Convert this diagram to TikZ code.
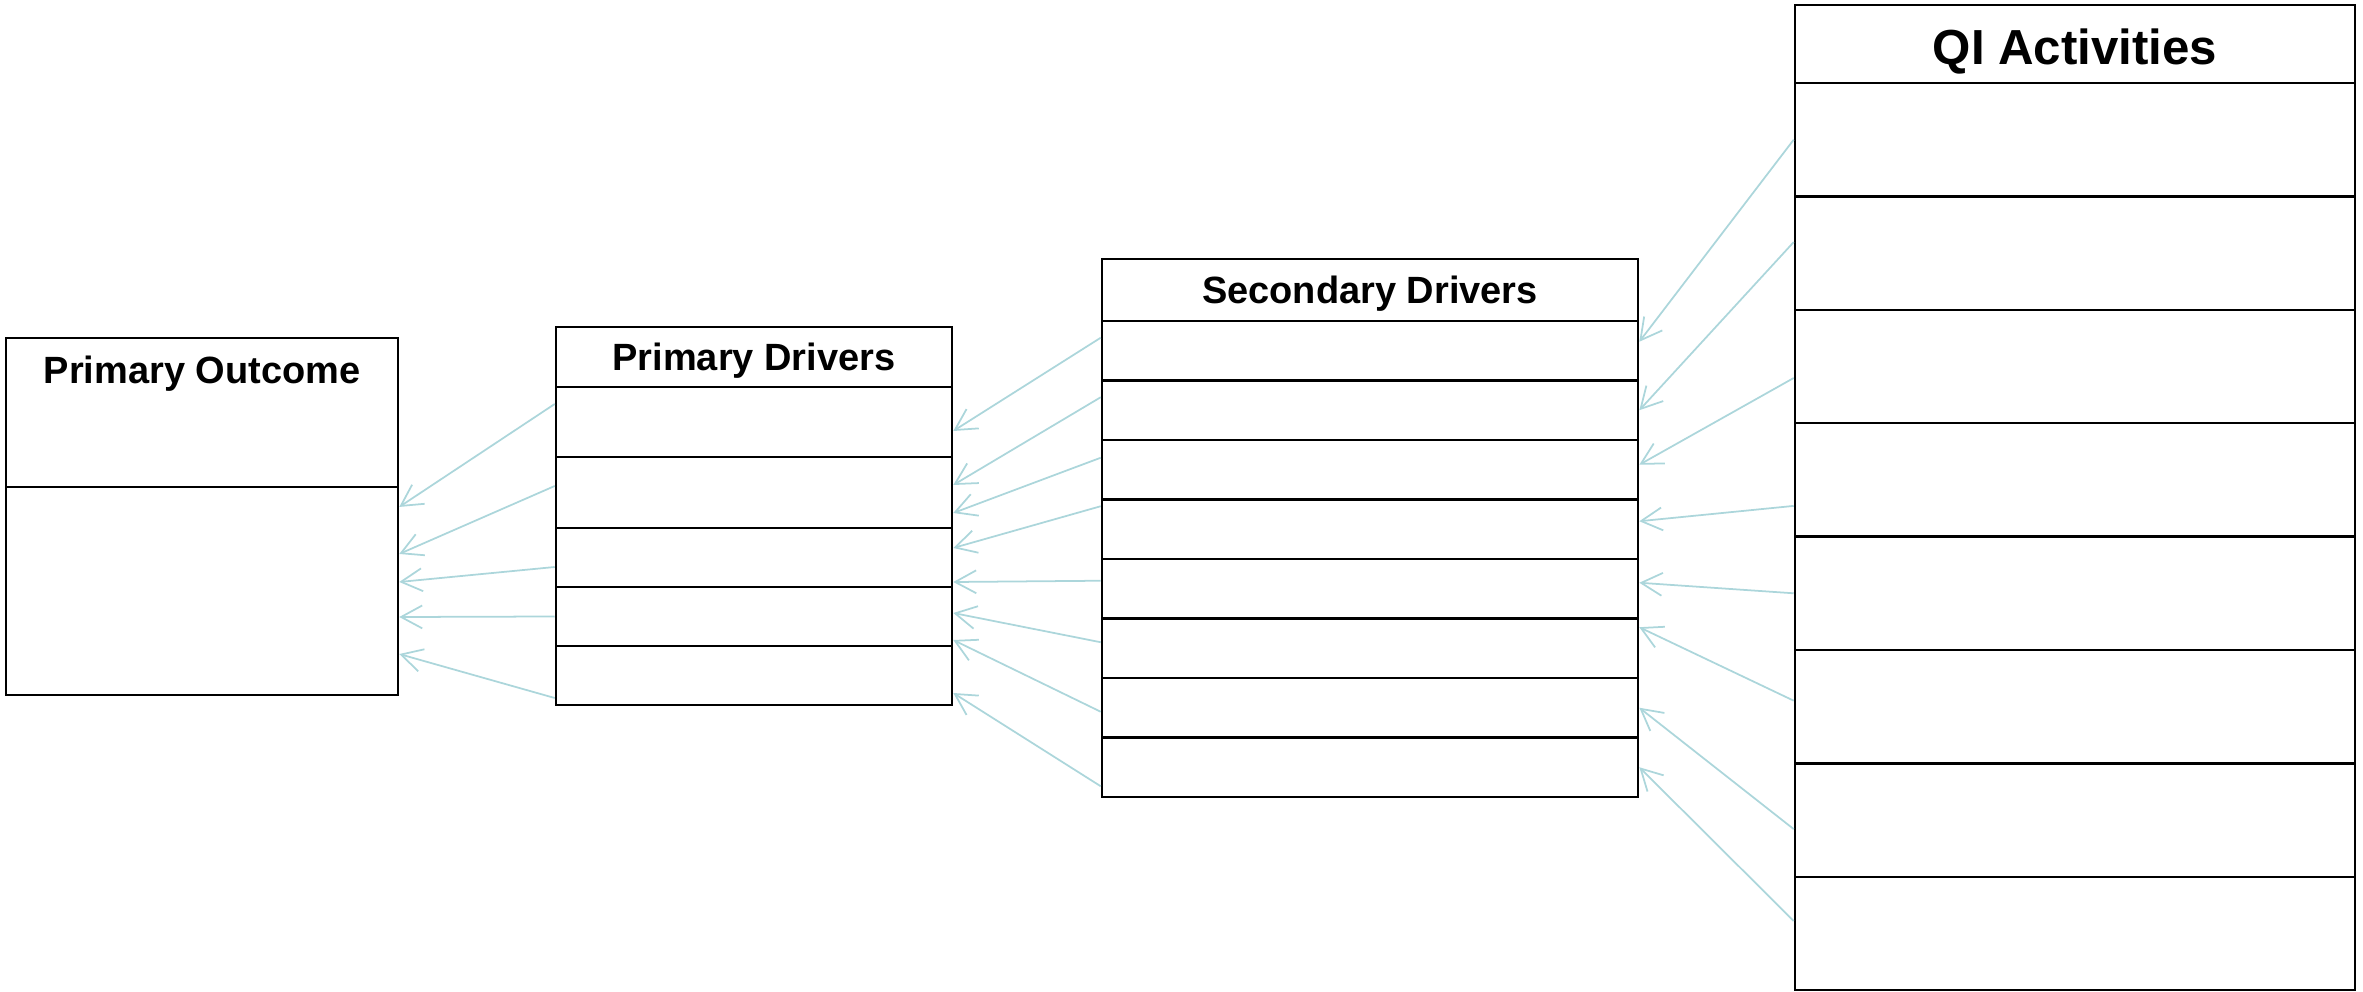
\documentclass[tikz,border=0pt]{standalone}
\usepackage{fontspec}
\setmainfont{Liberation Sans}
\usetikzlibrary{arrows.meta}
\definecolor{linkblue}{RGB}{172,214,219}

\begin{document}
\begin{tikzpicture}[x=0.01cm, y=-0.01cm,
  cell/.style={draw=black, line width=0.65pt, inner sep=0pt},
  head/.style={font=\bfseries\fontsize{10.8}{13}\selectfont, text depth=0pt},
  link/.style={draw=linkblue, line width=0.5pt, -{Straight Barb[length=6pt, width=6.5pt]}}]
\useasboundingbox (0, 0) rectangle (2363, 992);
\node[cell, minimum width=3.92cm, minimum height=1.49cm] (pohead) at (202, 412.5) {};
\node[cell, minimum width=3.92cm, minimum height=2.08cm] (po) at (202, 591) {};
\node[head] (potitle) at (202, 370) {Primary Outcome};
\node[cell, head, minimum width=3.96cm, minimum height=0.60cm] (pdhead) at (754, 357) {Primary Drivers};
\node[cell, minimum width=3.96cm, minimum height=0.70cm] (pd1) at (754, 422) {};
\node[cell, minimum width=3.96cm, minimum height=0.71cm] (pd2) at (754, 492.5) {};
\node[cell, minimum width=3.96cm, minimum height=0.59cm] (pd3) at (754, 557.5) {};
\node[cell, minimum width=3.96cm, minimum height=0.59cm] (pd4) at (754, 616.5) {};
\node[cell, minimum width=3.96cm, minimum height=0.59cm] (pd5) at (754, 675.5) {};
\node[cell, head, minimum width=5.36cm, minimum height=0.62cm] (sdhead) at (1370, 290) {Secondary Drivers};
\node[cell, minimum width=5.36cm, minimum height=0.595cm] (sd1) at (1370, 350.75) {};
\node[cell, minimum width=5.36cm, minimum height=0.595cm] (sd2) at (1370, 410.25) {};
\node[cell, minimum width=5.36cm, minimum height=0.595cm] (sd3) at (1370, 469.75) {};
\node[cell, minimum width=5.36cm, minimum height=0.595cm] (sd4) at (1370, 529.25) {};
\node[cell, minimum width=5.36cm, minimum height=0.595cm] (sd5) at (1370, 588.75) {};
\node[cell, minimum width=5.36cm, minimum height=0.595cm] (sd6) at (1370, 648.25) {};
\node[cell, minimum width=5.36cm, minimum height=0.595cm] (sd7) at (1370, 707.75) {};
\node[cell, minimum width=5.36cm, minimum height=0.595cm] (sd8) at (1370, 767.25) {};
\node[cell, font=\bfseries\fontsize{14}{17}\selectfont, text height=0.42cm, text depth=0pt, minimum width=5.60cm, minimum height=0.78cm] (qihead) at (2075, 44) {QI Activities};
\node[cell, minimum width=5.60cm, minimum height=1.134cm] (qi1) at (2075, 139.7) {};
\node[cell, minimum width=5.60cm, minimum height=1.134cm] (qi2) at (2075, 253.1) {};
\node[cell, minimum width=5.60cm, minimum height=1.134cm] (qi3) at (2075, 366.5) {};
\node[cell, minimum width=5.60cm, minimum height=1.134cm] (qi4) at (2075, 479.9) {};
\node[cell, minimum width=5.60cm, minimum height=1.134cm] (qi5) at (2075, 593.3) {};
\node[cell, minimum width=5.60cm, minimum height=1.134cm] (qi6) at (2075, 706.7) {};
\node[cell, minimum width=5.60cm, minimum height=1.134cm] (qi7) at (2075, 820.1) {};
\node[cell, minimum width=5.60cm, minimum height=1.134cm] (qi8) at (2075, 933.5) {};
\draw[link] (qi1.west) -- ([yshift=0.09cm]sd1.east);
\draw[link] ([yshift=0.11cm]qi2.west) -- (sd2.east);
\draw[link] ([yshift=-0.115cm]qi3.west) -- ([yshift=0.05cm]sd3.east);
\draw[link] ([yshift=-0.26cm]qi4.west) -- ([yshift=0.08cm]sd4.east);
\draw[link] (qi5.west) -- ([yshift=0.06cm]sd5.east);
\draw[link] ([yshift=0.06cm]qi6.west) -- ([yshift=0.21cm]sd6.east);
\draw[link] ([yshift=-0.09cm]qi7.west) -- (sd7.east);
\draw[link] ([yshift=0.125cm]qi8.west) -- (sd8.east);
\draw[link] ([yshift=0.13cm]sd1.west) -- ([yshift=-0.09cm]pd1.east);
\draw[link] ([yshift=0.13cm]sd2.west) -- ([yshift=0.075cm]pd2.east);
\draw[link] ([yshift=0.12cm]sd3.west) -- ([yshift=-0.205cm]pd2.east);
\draw[link] ([yshift=0.23cm]sd4.west) -- ([yshift=0.095cm]pd3.east);
\draw[link] ([yshift=0.08cm]sd5.west) -- ([yshift=-0.245cm]pd3.east);
\draw[link] ([yshift=0.06cm]sd6.west) -- ([yshift=0.035cm]pd4.east);
\draw[link] ([yshift=-0.04cm]sd7.west) -- ([yshift=-0.235cm]pd4.east);
\draw[link] ([yshift=-0.19cm]sd8.west) -- ([yshift=-0.175cm]pd5.east);
\draw[link] ([yshift=0.18cm]pd1.west) -- ([yshift=0.84cm]po.east);
\draw[link] ([yshift=0.065cm]pd2.west) -- ([yshift=0.37cm]po.east);
\draw[link] ([yshift=-0.095cm]pd3.west) -- ([yshift=0.09cm]po.east);
\draw[link] (pd4.west) -- ([yshift=-0.26cm]po.east);
\draw[link] ([yshift=-0.225cm]pd5.west) -- ([yshift=-0.63cm]po.east);
\end{tikzpicture}
\end{document}
